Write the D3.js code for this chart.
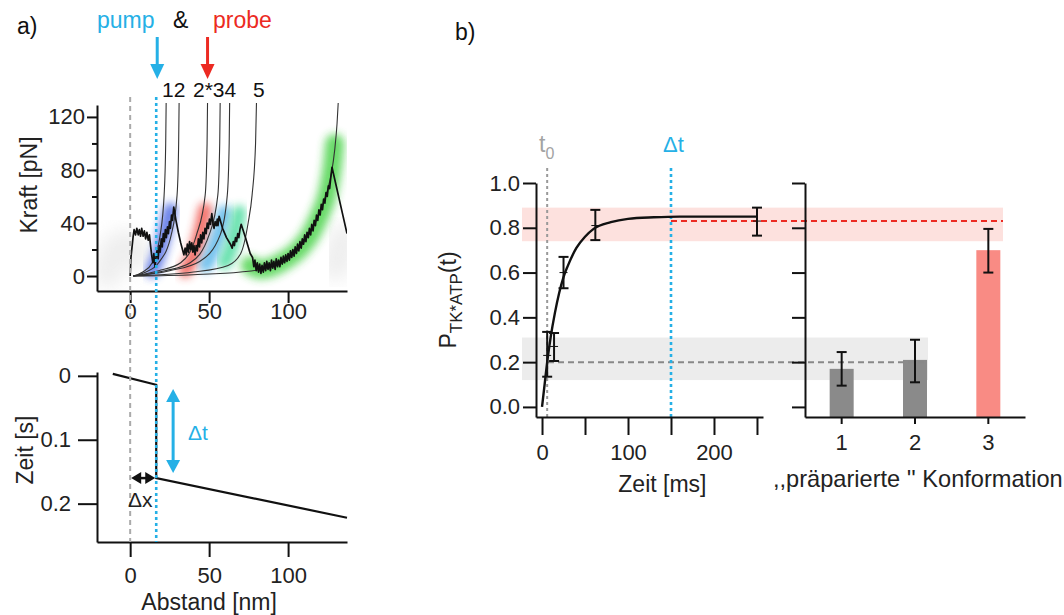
<!DOCTYPE html>
<html>
<head>
<meta charset="utf-8">
<script src="https://cdn.jsdelivr.net/npm/d3@7"></script>
<style>
  body { margin: 0; background: #fff; }
  svg { font-family: "Liberation Sans", Arial, sans-serif; }
  .axis path, .axis line { stroke: #111; stroke-width: 2; }
  .axis text { font-size: 22px; fill: #222; font-family: "Liberation Sans", Arial, sans-serif; }
</style>
</head>
<body>
<svg id="chart" width="1064" height="615"></svg>
<script>
// ---- panel a, force trace [nm, pN]
const forceTrace = [
  [0,0],[0.5,14],[1.2,22],[1.9,30],[2.5,35],[3.4,31],[4.2,36],[5.1,31],[5.8,35],[6.6,30],[7.3,36],[8.2,30],
  [9,34],[9.8,28],[10.6,33],[11.4,27],[12.2,31],[13,22],[13.7,15],[14.4,10],[15,17],[15.7,7],[16.4,14],
  [17.1,19],[17.7,13],[18.4,23],[19,18],[19.7,28],[20.3,22],[21,32],[21.6,26],[22.3,35],[22.9,29],[23.6,37],
  [24.2,32],[24.9,41],[25.5,36],[26.2,46],[26.8,42],[27.6,52],[29,42],[30.5,33],[32,25],[34,16],
  [34.8,21],[35.5,16],[36.2,24],[36.9,18],[37.6,26],[38.3,20],[39,25],[39.7,18],[40.4,23],[41.1,16],[41.8,23],
  [42.5,19],[43.2,28],[43.9,22],[44.6,31],[45.3,25],[46,33],[46.7,28],[47.4,36],[48.1,32],[48.8,40],[49.5,36],
  [50.2,43],[50.9,39],[51.7,47],[52.4,40],[53.1,36],[53.8,41],[54.5,38],[55.2,43],[55.6,38],[56.3,45],
  [58.5,36],[61,29],[63.5,24],[64.6,21],[65.3,26],[66,23],[66.7,29],[67.4,26],[68.1,32],[68.8,29],[69.5,35],
  [70.3,39],[73,29],[76,17],[77.5,14],[78.3,7],[79,12],[79.8,4],[80.5,10],[81.3,3],[82,9],[82.8,2],[83.5,8],
  [84.3,3],[85,10],[85.8,4],[86.5,11],[87.3,5],[88,10],[88.8,4],[89.5,12],[90.3,6],[91,11],[91.8,5],[92.5,13],
  [93.3,7],[94,12],[94.8,7],[95.5,14],[96.3,9],[97,15],[97.8,10],[98.5,16],[99.3,11],[100,17],[100.8,12],
  [101.5,19],[102.3,14],[103,20],[103.8,15],[104.5,22],[105.3,17],[106,24],[106.8,19],[107.5,26],[108.3,21],
  [109,28],[109.8,24],[110.5,31],[111.3,26],[112,33],[112.8,29],[113.5,36],[114.3,31],[115,39],[115.8,34],
  [116.5,42],[117.3,38],[118,46],[118.8,42],[119.5,50],[120.3,46],[121,54],[121.8,50],[122.5,58],[123.3,55],
  [124,63],[124.8,60],[125.5,68],[126.3,66],[127,74],[127.8,82],[137.3,32]
];
// worm-like-chain fit curves [nm, pN]
const wlcCurves = [
  [[2,0],[8,3],[14,10],[19,31],[21.5,61],[22.5,100],[22.8,132]],
  [[2,0],[10,3],[18,10],[26,31],[29.7,61],[30.7,100],[31,132]],
  [[2,0],[18,4],[32,10],[42,31],[47.5,61],[48.7,100],[49,132]],
  [[2,0],[22,4],[38,10],[50,31],[55.5,61],[56.7,100],[57,132]],
  [[2,0],[25,4],[44,11],[57,31],[61.5,61],[62.7,100],[63,132]],
  [[2,0],[40,3],[62,8],[70,17],[74.7,40],[77.2,61],[79.4,100],[80,132]],
  [[2,0],[40,1],[70,3],[90,7],[100,13],[107,21],[113,31],[118,42],[122,54],[125,65],[127.5,78],[129.5,95],[131,115],[131.8,132]]
];
// coloured density clouds along the unfolding events [nm, pN]
const cloudColors = ["#2f50e0", "#ef3a30", "#3aa9e6", "#2fd68f", "#2ecc2e"];
const cloudPaths = [
  [[14,4],[17.5,14],[20.5,26],[23,38],[25.5,50]],
  [[35,4],[39.5,14],[43,26],[45.5,38],[47.5,50]],
  [[48,8],[52,18],[55,28],[57.5,38],[59.5,48]],
  [[60,10],[63,18],[65.5,28],[67.5,38],[69,48]],
  [[76,8],[82,5],[90,7],[98,12],[106,19],[113,29],[119,43],[124,58],[127.5,78],[129.5,100]]
];
const hazePaths = [
  [[-14,2],[-10,18],[-4,24],[4,16]],
  [[130,8],[133,18],[135,28]]
];
// ---- panel a, time vs distance [nm, s]
const timeTrace = [[-11,-0.003],[16.5,0.014],[16.5,0.16],[137.3,0.222]];
const pumpPos = 16.5, probePos = 49;

// ---- panel b, kinetics
const fitTime  = [0, 3, 6, 10, 15, 20, 25, 30, 40, 50, 60, 80, 100, 130, 160, 200, 250];
const fitValue = [0, 0.10, 0.20, 0.31, 0.42, 0.51, 0.58, 0.63, 0.71, 0.76, 0.795, 0.825, 0.84, 0.847, 0.85, 0.85, 0.85];
const measTime = [6, 14, 25, 62, 250];
const measMean = [0.23, 0.27, 0.60, 0.81, 0.83];
const measLow  = [0.135, 0.205, 0.53, 0.745, 0.765];
const measHigh = [0.335, 0.33, 0.67, 0.88, 0.89];
const t0 = 6, deltaT = 150;
const bandHigh = [0.74, 0.89], bandLow = [0.12, 0.31];
const levelHigh = 0.83, levelLow = 0.2;

// ---- panel b, prepared conformations
const conformations = ["1", "2", "3"];
const barValue = [0.17, 0.21, 0.70];
const barLow   = [0.095, 0.11, 0.60];
const barHigh  = [0.245, 0.30, 0.795];
const barColors = ["#8a8a8a", "#8a8a8a", "#f98b84"];

const cyan = "#25b0e6", red = "#ec2a22";
const svg = d3.select("#chart");
const defs = svg.append("defs");

defs.append("filter").attr("id", "blur")
  .attr("x", "-50%").attr("y", "-50%").attr("width", "200%").attr("height", "200%")
  .append("feGaussianBlur").attr("stdDeviation", 4);
defs.append("filter").attr("id", "blurWide")
  .attr("x", "-80%").attr("y", "-80%").attr("width", "260%").attr("height", "260%")
  .append("feGaussianBlur").attr("stdDeviation", 9);
defs.append("clipPath").attr("id", "clipA")
  .append("rect").attr("x", 97).attr("y", 103).attr("width", 250).attr("height", 188);

// ================= panel a (top) =================
const xA = d3.scaleLinear().domain([-21, 137.3]).range([97, 347]);
const yF = d3.scaleLinear().domain([-11.3, 129]).range([291, 105]);
const yT = d3.scaleLinear().domain([-0.006, 0.26]).range([372, 542]);

const lineF = d3.line().x(d => xA(d[0])).y(d => yF(d[1]));
const smoothF = d3.line().x(d => xA(d[0])).y(d => yF(d[1])).curve(d3.curveMonotoneX);
const smoothC = d3.line().x(d => xA(d[0])).y(d => yF(d[1])).curve(d3.curveCatmullRom);

const plotA = svg.append("g").attr("clip-path", "url(#clipA)");

plotA.selectAll(".haze").data(hazePaths).enter().append("path")
  .attr("d", smoothC).attr("fill", "none").attr("stroke", "#c8c8c8")
  .attr("stroke-width", 30).attr("stroke-linecap", "round")
  .attr("opacity", 0.3).attr("filter", "url(#blurWide)");

plotA.selectAll(".cloud").data(cloudPaths).enter().append("path")
  .attr("d", smoothC).attr("fill", "none")
  .attr("stroke", (d, i) => cloudColors[i])
  .attr("stroke-width", (d, i) => i === 4 ? 19 : 14)
  .attr("stroke-linecap", "round")
  .attr("opacity", 0.72).attr("filter", "url(#blur)");

plotA.selectAll(".wlc").data(wlcCurves).enter().append("path")
  .attr("d", smoothF).attr("fill", "none").attr("stroke", "#333").attr("stroke-width", 1.1);

plotA.append("path").datum(forceTrace).attr("d", lineF)
  .attr("fill", "none").attr("stroke", "#111").attr("stroke-width", 1.7).attr("stroke-linejoin", "round");

svg.append("g").attr("class", "axis").attr("transform", "translate(0,291)")
  .call(d3.axisBottom(xA).tickValues([0, 50, 100]).tickSize(12).tickSizeOuter(0).tickPadding(0));
svg.append("g").attr("class", "axis").attr("transform", "translate(97,0)")
  .call(d3.axisLeft(yF).tickValues([0, 40, 80, 120]).tickSize(10).tickSizeOuter(0).tickPadding(2));
svg.append("g").attr("class", "axis").attr("transform", "translate(97,0)")
  .call(d3.axisLeft(yF).tickValues([20, 60, 100]).tickSize(5).tickFormat(""))
  .call(g => g.select(".domain").remove());

svg.append("text").attr("transform", "translate(37,185) rotate(-90)")
  .attr("text-anchor", "middle").style("font-size", "23px").attr("fill", "#222").text("Kraft [pN]");

// ================= panel a (bottom) =================
svg.append("path").datum(timeTrace)
  .attr("d", d3.line().x(d => xA(d[0])).y(d => yT(d[1])))
  .attr("fill", "none").attr("stroke", "#111").attr("stroke-width", 2.2);

svg.append("g").attr("class", "axis").attr("transform", "translate(0,542)")
  .call(d3.axisBottom(xA).tickValues([0, 50, 100]).tickSize(15).tickSizeOuter(0).tickPadding(10));
svg.append("g").attr("class", "axis").attr("transform", "translate(97,0)")
  .call(d3.axisLeft(yT).tickValues([0, 0.1, 0.2]).tickSize(19).tickSizeOuter(0).tickPadding(7)
    .tickFormat(d => d === 0 ? "0" : d3.format(".1f")(d)));

svg.append("text").attr("transform", "translate(33,450) rotate(-90)")
  .attr("text-anchor", "middle").style("font-size", "23px").attr("fill", "#222").text("Zeit [s]");
svg.append("text").attr("x", xA(50)).attr("y", 610).attr("text-anchor", "middle")
  .style("font-size", "23px").attr("fill", "#222").text("Abstand [nm]");

// reference lines through both a-panels
svg.append("line").attr("x1", xA(0)).attr("x2", xA(0)).attr("y1", 97).attr("y2", 542)
  .attr("stroke", "#aaa").attr("stroke-width", 2).attr("stroke-dasharray", "5,4");
svg.append("line").attr("x1", xA(pumpPos)).attr("x2", xA(pumpPos)).attr("y1", 97).attr("y2", 542)
  .attr("stroke", cyan).attr("stroke-width", 2.6).attr("stroke-dasharray", "3,3");

// arrows
function vArrow(x, y1, y2, color, both, w, head) {
  svg.append("line").attr("x1", x).attr("x2", x)
    .attr("y1", both ? y1 + head - 2 : y1).attr("y2", y2 - head + 2)
    .attr("stroke", color).attr("stroke-width", 3);
  svg.append("path").attr("d", `M${x - w},${y2 - head}L${x + w},${y2 - head}L${x},${y2}Z`).attr("fill", color);
  if (both) svg.append("path").attr("d", `M${x - w},${y1 + head}L${x + w},${y1 + head}L${x},${y1}Z`).attr("fill", color);
}
vArrow(xA(pumpPos) + 1, 37, 79, cyan, false, 7, 15);
vArrow(xA(probePos), 37, 79, red, false, 7, 15);
vArrow(xA(27.2), yT(0.0205), yT(0.152), cyan, true, 7, 13);

// delta x arrow
const ax1 = xA(0) + 1, ax2 = xA(pumpPos) - 1, ay = yT(0.16);
svg.append("line").attr("x1", ax1 + 8).attr("x2", ax2 - 8).attr("y1", ay).attr("y2", ay)
  .attr("stroke", "#111").attr("stroke-width", 2.5);
svg.append("path").attr("d", `M${ax1},${ay}L${ax1 + 10},${ay - 6}L${ax1 + 10},${ay + 6}Z`).attr("fill", "#111");
svg.append("path").attr("d", `M${ax2},${ay}L${ax2 - 10},${ay - 6}L${ax2 - 10},${ay + 6}Z`).attr("fill", "#111");

svg.append("text").attr("x", 188).attr("y", 440).style("font-size", "21px").attr("fill", cyan).text("Δt");
svg.append("text").attr("x", 128).attr("y", 507).style("font-size", "21px").attr("fill", "#222").text("Δx");

// headings
svg.append("text").attr("x", 17).attr("y", 34).style("font-size", "23px").attr("fill", "#111").text("a)");
svg.append("text").attr("x", 97).attr("y", 28).style("font-size", "23px").attr("fill", cyan).text("pump");
svg.append("text").attr("x", 173).attr("y", 28).style("font-size", "23px").attr("fill", "#111").text("&");
svg.append("text").attr("x", 213).attr("y", 28).style("font-size", "23px").attr("fill", red).text("probe");
svg.append("text").attr("x", 162).attr("y", 97).style("font-size", "21px").attr("fill", "#111").text("12");
svg.append("text").attr("x", 193).attr("y", 97).style("font-size", "21px").attr("fill", "#111").text("2*34");
svg.append("text").attr("x", 253).attr("y", 97).style("font-size", "21px").attr("fill", "#111").text("5");

// ================= panel b =================
const xB = d3.scaleLinear().domain([-7, 257]).range([536, 763]);
const yP = d3.scaleLinear().domain([-0.045, 1.0]).range([417, 183]);
const xC = d3.scaleBand().domain(conformations).range([805, 1025]);

svg.append("text").attr("x", 455).attr("y", 40).style("font-size", "23px").attr("fill", "#111").text("b)");

// bands
svg.append("rect").attr("x", 522).attr("width", 1003 - 522)
  .attr("y", yP(bandHigh[1])).attr("height", yP(bandHigh[0]) - yP(bandHigh[1])).attr("fill", "#fde1de");
svg.append("rect").attr("x", 522).attr("width", 928 - 522)
  .attr("y", yP(bandLow[1])).attr("height", yP(bandLow[0]) - yP(bandLow[1])).attr("fill", "#ececec");

// bars
svg.selectAll(".bar").data(conformations).enter().append("rect")
  .attr("x", d => xC(d) + xC.bandwidth() / 2 - 12).attr("width", 24)
  .attr("y", (d, i) => yP(barValue[i])).attr("height", (d, i) => 417 - yP(barValue[i]))
  .attr("fill", (d, i) => barColors[i]);

// level lines
svg.append("line").attr("x1", xB(deltaT)).attr("x2", 1003).attr("y1", yP(levelHigh)).attr("y2", yP(levelHigh))
  .attr("stroke", red).attr("stroke-width", 2).attr("stroke-dasharray", "6,4");
svg.append("line").attr("x1", 548).attr("x2", 928).attr("y1", yP(levelLow)).attr("y2", yP(levelLow))
  .attr("stroke", "#888").attr("stroke-width", 2).attr("stroke-dasharray", "6,4");

// t0 and delta t lines
svg.append("line").attr("x1", xB(t0)).attr("x2", xB(t0)).attr("y1", 168).attr("y2", 417)
  .attr("stroke", "#999").attr("stroke-width", 2).attr("stroke-dasharray", "3,3");
svg.append("line").attr("x1", xB(deltaT)).attr("x2", xB(deltaT)).attr("y1", 168).attr("y2", 417)
  .attr("stroke", cyan).attr("stroke-width", 2.6).attr("stroke-dasharray", "3,3");

const t0Label = svg.append("text").attr("x", 539).attr("y", 152).style("font-size", "23px").attr("fill", "#a3a3a3");
t0Label.append("tspan").text("t");
t0Label.append("tspan").attr("dy", 7).style("font-size", "16px").text("0");
svg.append("text").attr("x", 663).attr("y", 152).style("font-size", "22px").attr("fill", cyan).text("Δt");

// fit curve
svg.append("path").datum(fitTime.map((t, i) => [t, fitValue[i]]))
  .attr("d", d3.line().x(d => xB(d[0])).y(d => yP(d[1])).curve(d3.curveMonotoneX))
  .attr("fill", "none").attr("stroke", "#111").attr("stroke-width", 2.4);

// error bars
function errBars(xs, lo, hi, mid) {
  const g = svg.append("g").attr("stroke", "#111").attr("stroke-width", 2);
  xs.forEach((x, i) => {
    g.append("line").attr("x1", x).attr("x2", x).attr("y1", yP(lo[i])).attr("y2", yP(hi[i]));
    g.append("line").attr("x1", x - 5).attr("x2", x + 5).attr("y1", yP(lo[i])).attr("y2", yP(lo[i]));
    g.append("line").attr("x1", x - 5).attr("x2", x + 5).attr("y1", yP(hi[i])).attr("y2", yP(hi[i]));
    if (mid) g.append("line").attr("x1", x - 4).attr("x2", x + 4).attr("y1", yP(mid[i])).attr("y2", yP(mid[i]))
      .attr("stroke-width", 1);
  });
}
errBars(measTime.map(t => xB(t)), measLow, measHigh, measMean);
errBars(conformations.map(c => xC(c) + xC.bandwidth() / 2), barLow, barHigh, null);

// axes
svg.append("g").attr("class", "axis").attr("transform", "translate(0,417)")
  .call(d3.axisBottom(xB).tickValues([0, 50, 100, 150, 200, 250]).tickSize(18).tickSizeOuter(0).tickPadding(9)
    .tickFormat(d => d % 100 === 0 ? d : ""));
svg.append("g").attr("class", "axis").attr("transform", "translate(536,0)")
  .call(d3.axisLeft(yP).tickValues([0, 0.2, 0.4, 0.6, 0.8, 1.0]).tickSize(13).tickSizeOuter(0).tickPadding(3)
    .tickFormat(d3.format(".1f")));
svg.append("g").attr("class", "axis").attr("transform", "translate(805,0)")
  .call(d3.axisLeft(yP).tickValues([0, 0.2, 0.4, 0.6, 0.8, 1.0]).tickSize(13).tickSizeOuter(0).tickFormat(""));
svg.append("g").attr("class", "axis").attr("transform", "translate(0,417)")
  .call(d3.axisBottom(xC).tickSize(7).tickSizeOuter(0).tickPadding(10));

const pLabel = svg.append("text").attr("transform", "translate(456,300) rotate(-90)")
  .attr("text-anchor", "middle").style("font-size", "23px").attr("fill", "#222");
pLabel.append("tspan").text("P");
pLabel.append("tspan").attr("dy", 6).style("font-size", "17px").text("TK*ATP");
pLabel.append("tspan").attr("dy", -6).text("(t)");

svg.append("text").attr("x", xB(140)).attr("y", 492).attr("text-anchor", "middle")
  .style("font-size", "23px").attr("fill", "#222").text("Zeit [ms]");
svg.append("text").attr("x", 773).attr("y", 487)
  .style("font-size", "23.6px").attr("fill", "#222").text(",,präparierte '' Konformation");
</script>
</body>
</html>
